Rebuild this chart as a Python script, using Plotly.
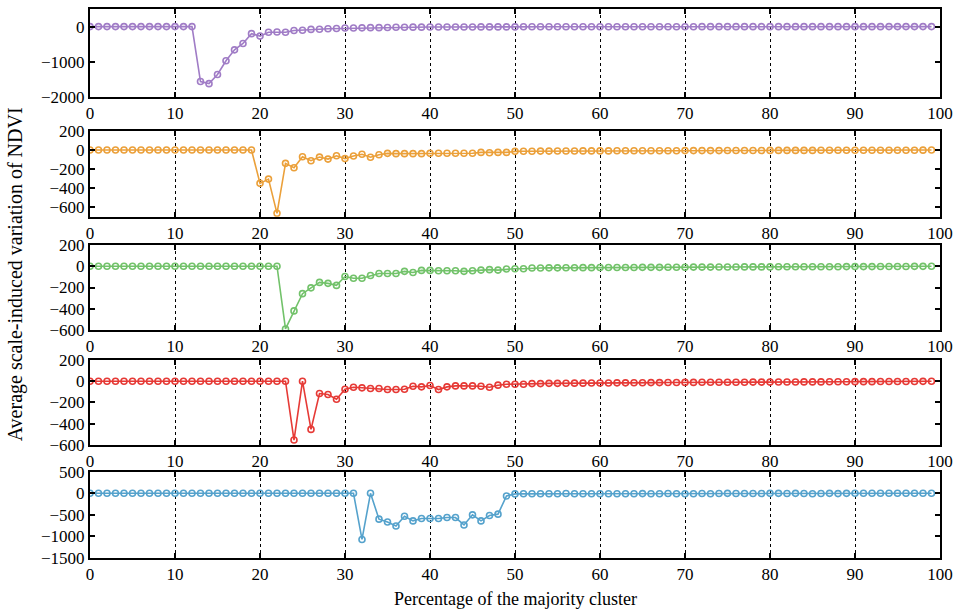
import plotly.graph_objects as go

x_vals = list(range(100))

purple = [0, 0, 0, 0, 0, 0, 0, 0, 0, 0, 0, 0, 0,
          -1560, -1620, -1360, -970, -660, -480, -200, -270, -160, -155, -160, -110, -105, -80, -75, -60, -55,
          -40, -40, -35, -30, -30, -25, -20, -20, -15, -15,
          -12, -12, -10, -10, -10, -10, -8, -8, -8, -8, -8, -6, -6, -6, -6, -5, -5, -5, -5, -5,
          -4, -4, -4, -4, -4, -3, -3, -3, -3, -3, -3, -3, -2, -2, -2, -2, -2, -2, -2, -2,
          -2, -1, -1, -1, -1, -1, -1, -1, -1, -1, -1, -1, -1, -1, 0, 0, 0, 0, 0, 0]

orange = [0, 0, 0, 0, 0, 0, 0, 0, 0, 0, 0, 0, 0, 0, 0, 0, 0, 0, 0, 0,
          -350, -305, -665, -140, -186, -70, -112, -74, -95, -60,
          -90, -62, -45, -75, -50, -35, -38, -38, -38, -38,
          -35, -34, -33, -33, -33, -33, -25, -28, -25, -25, -14,
          -12, -12, -11, -11, -10, -10, -10, -9, -9, -9, -9, -8, -8, -8, -8, -7, -7, -7, -7, -6,
          -6, -6, -6, -6, -5, -5, -5, -5, -5, -4, -4, -4, -4, -4, -4, -3, -3, -3, -3, -3,
          -3, -2, -2, -2, -2, -2, -2, -1, 0]

green = [0, 0, 0, 0, 0, 0, 0, 0, 0, 0, 0, 0, 0, 0, 0, 0, 0, 0, 0, 0, 0, 0, 0,
         -590, -420, -258, -203, -152, -161, -180, -97, -113, -113, -87, -68, -68, -68, -48, -58, -39,
         -39, -42, -42, -42, -48, -42, -36, -32, -36, -26, -23, -23,
         -16, -16, -15, -15, -14, -14, -13, -13, -12, -12, -12, -11, -11, -10, -10, -10, -9, -9, -9, -8,
         -8, -8, -7, -7, -7, -6, -6, -6, -6, -5, -5, -5, -5, -4, -4, -4, -4, -3, -3, -3,
         -3, -2, -2, -2, -2, -1, -1, 0]

red = [0, 0, 0, 0, 0, 0, 0, 0, 0, 0, 0, 0, 0, 0, 0, 0, 0, 0, 0, 0, 0, 0, 0, 0,
       -553, 0, -453, -116, -125, -169, -75, -56, -62, -68, -68, -78, -78, -75, -47, -53,
       -40, -78, -53, -44, -44, -44, -47, -56, -37, -28, -28, -28,
       -22, -22, -20, -20, -19, -18, -18, -17, -16, -16, -15, -15, -14, -14, -13, -13, -12, -12, -11, -11,
       -10, -10, -10, -9, -9, -9, -8, -8, -8, -7, -7, -7, -6, -6, -6, -5, -5, -5, -4, -4,
       -4, -3, -3, -3, -2, -2, -1, 0]

blue = [0, 0, 0, 0, 0, 0, 0, 0, 0, 0, 0, 0, 0, 0, 0, 0, 0, 0, 0, 0, 0, 0, 0, 0, 0, 0, 0, 0, 0, 0, 0, 0,
        -1070, 0, -600, -664, -758, -531, -640, -586, -586, -586, -562, -562, -734, -500, -640, -516, -484, -62,
        -15, -12, -12, -10, -10, -12, -5, -10, -10, -10, -10, -12, -10, -10, -10, -8, -10, -10, -5, -10,
        -10, -10, -5, -10, -5, -2, -5, -5, -5, -5, -2, -2, -5, -2, -5, -10, -5, -2, -8, -2,
        0, 0, 0, 0, 0, 0, 0, 0, 0, 0]

series = [purple, orange, green, red, blue]
colors = ["#a07cc6", "#eba03a", "#72c26a", "#e63a36", "#55a2cc"]
y_ranges = [[-2000, 500], [-700, 200], [-600, 200], [-600, 200], [-1500, 500]]
y_dticks = [1000, 200, 200, 200, 500]
x_ticks = [0, 10, 20, 30, 40, 50, 60, 70, 80, 90, 100]
domains = [[0.8397, 1.0], [0.6217, 0.7778], [0.4153, 0.5701], [0.2058, 0.3607], [0.0, 0.1572]]

font_family = "Liberation Serif"

fig = go.Figure()
for i, (vals, col) in enumerate(zip(series, colors)):
    n = "" if i == 0 else str(i + 1)
    fig.add_trace(go.Scatter(
        x=x_vals, y=vals, mode="lines+markers",
        line=dict(color=col, width=1.6),
        marker=dict(symbol="circle-open", size=6, color=col, line=dict(width=1.6, color=col)),
        xaxis="x" + n, yaxis="y" + n, showlegend=False,
    ))
    axis_common = dict(
        showline=True, linecolor="black", linewidth=2, mirror="ticks",
        ticks="inside", ticklen=5, tickwidth=2, tickcolor="black",
        tickfont=dict(family=font_family, size=17, color="black"),
        zeroline=False, automargin=False,
    )
    fig.update_layout(**{
        "xaxis" + n: dict(
            axis_common, domain=[0, 1], anchor="y" + n, range=[0, 100],
            tickvals=x_ticks, ticktext=[str(t) for t in x_ticks],
            showgrid=True, gridcolor="black", gridwidth=1, griddash="dot",
        ),
        "yaxis" + n: dict(
            axis_common, domain=domains[i], anchor="x" + n, range=y_ranges[i],
            dtick=y_dticks[i], tick0=0, showgrid=False, tickformat="d",
        ),
    })

fig.add_annotation(text="Average scale-induced variation of NDVI", textangle=-90,
                   xref="paper", yref="paper", x=-0.088, y=0.517, xanchor="center", yanchor="middle",
                   showarrow=False, font=dict(family=font_family, size=20, color="black"))
fig.add_annotation(text="Percentage of the majority cluster",
                   xref="paper", yref="paper", x=0.5, y=-0.075, xanchor="center", yanchor="middle",
                   showarrow=False, font=dict(family=font_family, size=18, color="black"))

fig.update_layout(
    width=954, height=613,
    margin=dict(l=90, r=14, t=9, b=55, autoexpand=False),
    paper_bgcolor="white", plot_bgcolor="white",
    font=dict(family=font_family, color="black"),
)

fig.write_html("out.html")
